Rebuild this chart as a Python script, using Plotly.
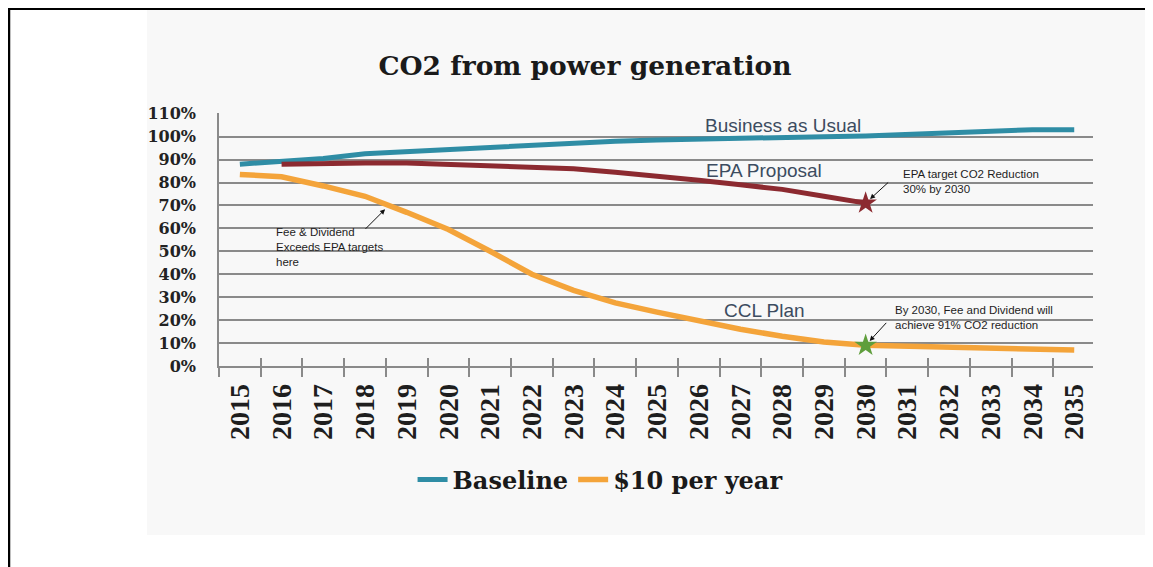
import plotly.graph_objects as go

years = list(range(2015, 2036))
year_labels = [str(y) for y in years]
baseline = [88, 89, 90.5, 92.5, 93.5, 94.5, 95.3, 96, 97, 98, 98.5, 99, 99.5, 99.7,
            100, 100.3, 101, 102, 102.7, 103, 103]
epa_years = list(range(2016, 2031))
epa = [88, 88.5, 88.5, 88.5, 88, 87.5, 87, 86, 84.5, 83, 81, 79, 77, 74, 71]
fee10 = [83.5, 82.5, 78.5, 74, 67, 59.5, 50, 40, 33, 27.5, 23.5, 19.5, 16, 13, 10.5,
         9, 8.5, 8, 7.8, 7.3, 7]
y_ticks = list(range(0, 111, 10))
y_tick_labels = [f"{v}%" for v in y_ticks]

TEAL = "#2f8da5"
RED = "#8c2a30"
ORANGE = "#f4a43a"
GREEN = "#5f9e3c"
GRID = "#8a8a8a"
TXT = "#3c4c60"

# page body has an 8px margin: screen px = figure px + 8
OFF = 8

fig = go.Figure()
fig.add_trace(go.Scatter(x=years, y=baseline, mode="lines", name="Baseline",
                         line=dict(color=TEAL, width=5)))
fig.add_trace(go.Scatter(x=years, y=fee10, mode="lines", name="$10 per year",
                         line=dict(color=ORANGE, width=5.5)))
fig.add_trace(go.Scatter(x=epa_years, y=epa, mode="lines", name="EPA Proposal",
                         showlegend=False, line=dict(color=RED, width=5)))
i30 = years.index(2030)
fig.add_trace(go.Scatter(x=[2030], y=[epa[epa_years.index(2030)]], mode="markers",
                         showlegend=False,
                         marker=dict(symbol="star", size=17, color=RED)))
fig.add_trace(go.Scatter(x=[2030], y=[fee10[i30]], mode="markers", showlegend=False,
                         marker=dict(symbol="star", size=17, color=GREEN)))
# invisible trace for overlay tick axis
fig.add_trace(go.Scatter(x=[years[0]], y=[None], xaxis="x2", showlegend=False,
                         hoverinfo="skip"))

XR = [2014.5, 2035.45]
bounds = [y - 0.5 for y in years]

fig.update_layout(
    width=1153, height=567,
    margin=dict(l=219 - OFF, r=1153 - (1093 - OFF), t=113 - OFF, b=567 - (366 - OFF)),
    paper_bgcolor="white",
    plot_bgcolor="rgba(0,0,0,0)",
    showlegend=True,
    title=dict(text="CO2 from power generation", x=(585 - OFF) / 1153, xanchor="center",
               y=1 - (66 - OFF) / 567, yanchor="middle",
               font=dict(family="DejaVu Serif", size=26.5, color="#1a1a1a", weight="bold")),
    xaxis=dict(range=XR, tickmode="array", tickvals=years, ticktext=year_labels,
               tickangle=-90, showgrid=False, zeroline=False,
               showline=True, linecolor=GRID, linewidth=1.5,
               ticks="", ticklabelstandoff=5,
               minor=dict(tickmode="array", tickvals=bounds, ticks="outside",
                          ticklen=9, tickcolor=GRID, tickwidth=1.5, showgrid=False),
               tickfont=dict(family="Liberation Serif", size=28, color="#1e1e1e",
                             weight="bold")),
    xaxis2=dict(range=XR, overlaying="x", anchor="y", side="bottom",
                tickmode="array", tickvals=bounds, ticks="inside", ticklen=8,
                tickcolor=GRID, tickwidth=1.5, showticklabels=False,
                showgrid=False, zeroline=False, showline=False),
    yaxis=dict(range=[0, 110.3], tickmode="array", tickvals=y_ticks,
               ticktext=y_tick_labels, showgrid=True, gridcolor=GRID, gridwidth=1.5,
               zeroline=False, showline=True, linecolor=GRID, linewidth=1.5,
               ticks="", ticklabelstandoff=18,
               tickfont=dict(family="DejaVu Serif", size=16, color="#222222",
                             weight="bold")),
    legend=dict(orientation="h", x=0.436, xanchor="center", y=-0.45,
                yanchor="middle", bgcolor="rgba(0,0,0,0)",
                font=dict(family="DejaVu Serif", size=24, color="#1a1a1a",
                          weight="bold")),
)

# scanned page background and page border (screen pixel positions mapped to paper)
def px(sx):
    return (sx - 219) / 874


def py(sy):
    return (366 - sy) / 253


fig.add_shape(type="rect", xref="paper", yref="paper",
              x0=px(147), x1=px(1146), y0=py(535), y1=py(9),
              fillcolor="#f8f8f8", line=dict(width=0), layer="below")
fig.add_shape(type="line", xref="paper", yref="paper",
              x0=px(8), x1=px(1170), y0=py(9), y1=py(9),
              line=dict(color="black", width=2))
fig.add_shape(type="line", xref="paper", yref="paper",
              x0=px(9), x1=px(9), y0=py(9), y1=py(580),
              line=dict(color="black", width=2.5))

sans = "Liberation Sans"
fig.add_annotation(x=2028.02, y=104.8, text="Business as Usual", showarrow=False,
                   font=dict(family=sans, size=19, color=TXT))
fig.add_annotation(x=2027.56, y=85.2, text="EPA Proposal", showarrow=False,
                   font=dict(family=sans, size=19, color=TXT))
fig.add_annotation(x=2027.57, y=24.3, text="CCL Plan", showarrow=False,
                   font=dict(family=sans, size=19, color=TXT))

small = dict(family=sans, size=11.5, color="#1e1e1e")
fig.add_annotation(x=2030.85, y=80.4, xanchor="left", align="left", showarrow=False,
                   text="EPA target CO2 Reduction<br>30% by 2030", font=small)
fig.add_annotation(x=2030.66, y=21.1, xanchor="left", align="left", showarrow=False,
                   text="By 2030, Fee and Dividend will<br>achieve 91% CO2 reduction",
                   font=small)
fig.add_annotation(x=2015.82, y=51.9, xanchor="left", align="left", showarrow=False,
                   text="Fee & Dividend<br>Exceeds EPA targets<br>here", font=small)

arrow = dict(showarrow=True, arrowhead=2, arrowsize=1, arrowwidth=1,
             arrowcolor="#111111", text="")
fig.add_annotation(x=2030, y=epa[epa_years.index(2030)], ax=24, ay=-22,
                   standoff=6, **arrow)
fig.add_annotation(x=2030, y=fee10[i30], ax=22, ay=-24, standoff=6, **arrow)
fig.add_annotation(x=2018.48, y=68.3, ax=-21, ay=21, **arrow)

fig.write_html("out.html")
